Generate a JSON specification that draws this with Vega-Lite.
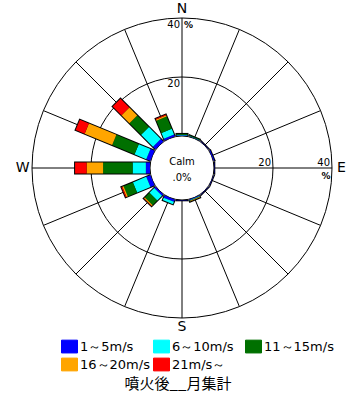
{
  "$schema": "https://vega.github.io/schema/vega-lite/v6.json",
  "width": 356,
  "height": 376,
  "autosize": "none",
  "padding": {"left": 0, "top": 0, "right": 0, "bottom": 28},
  "background": "white",
  "config": {"view": {"stroke": null}, "font": "DejaVu Sans"},
  "title": {"text": "噴火後__月集計", "orient": "bottom", "anchor": "middle", "font": "Noto Sans CJK JP", "fontSize": 15, "fontWeight": "normal", "color": "black", "offset": 1},
  "datasets": {
    "dirs": [
      {"name": "N", "deg": 0}, {"name": "NNE", "deg": 22.5}, {"name": "NE", "deg": 45}, {"name": "ENE", "deg": 67.5},
      {"name": "E", "deg": 90}, {"name": "ESE", "deg": 112.5}, {"name": "SE", "deg": 135}, {"name": "SSE", "deg": 157.5},
      {"name": "S", "deg": 180}, {"name": "SSW", "deg": 202.5}, {"name": "SW", "deg": 225}, {"name": "WSW", "deg": 247.5},
      {"name": "W", "deg": 270}, {"name": "WNW", "deg": 292.5}, {"name": "NW", "deg": 315}, {"name": "NNW", "deg": 337.5}
    ],
    "wind": [
      {"dir": "N", "deg": 0, "band": 1, "speed": "1～5m/s", "pct": 0.2},
      {"dir": "N", "deg": 0, "band": 2, "speed": "6～10m/s", "pct": 0.2},
      {"dir": "N", "deg": 0, "band": 3, "speed": "11～15m/s", "pct": 0.3},
      {"dir": "NNE", "deg": 22.5, "band": 1, "speed": "1～5m/s", "pct": 0.1},
      {"dir": "NNE", "deg": 22.5, "band": 2, "speed": "6～10m/s", "pct": 0.1},
      {"dir": "NNE", "deg": 22.5, "band": 3, "speed": "11～15m/s", "pct": 0.2},
      {"dir": "NE", "deg": 45, "band": 1, "speed": "1～5m/s", "pct": 0.1},
      {"dir": "ENE", "deg": 67.5, "band": 1, "speed": "1～5m/s", "pct": 0.3},
      {"dir": "E", "deg": 90, "band": 1, "speed": "1～5m/s", "pct": 0.1},
      {"dir": "ESE", "deg": 112.5, "band": 1, "speed": "1～5m/s", "pct": 0.1},
      {"dir": "SE", "deg": 135, "band": 1, "speed": "1～5m/s", "pct": 0.1},
      {"dir": "SSE", "deg": 157.5, "band": 1, "speed": "1～5m/s", "pct": 0.2},
      {"dir": "SSE", "deg": 157.5, "band": 2, "speed": "6～10m/s", "pct": 0.2},
      {"dir": "SSE", "deg": 157.5, "band": 3, "speed": "11～15m/s", "pct": 0.1},
      {"dir": "SSE", "deg": 157.5, "band": 4, "speed": "16～20m/s", "pct": 0.2},
      {"dir": "S", "deg": 180, "band": 1, "speed": "1～5m/s", "pct": 0.1},
      {"dir": "SSW", "deg": 202.5, "band": 1, "speed": "1～5m/s", "pct": 0.8},
      {"dir": "SSW", "deg": 202.5, "band": 2, "speed": "6～10m/s", "pct": 0.9},
      {"dir": "SW", "deg": 225, "band": 1, "speed": "1～5m/s", "pct": 0.6},
      {"dir": "SW", "deg": 225, "band": 2, "speed": "6～10m/s", "pct": 2.3},
      {"dir": "SW", "deg": 225, "band": 3, "speed": "11～15m/s", "pct": 2.2},
      {"dir": "SW", "deg": 225, "band": 4, "speed": "16～20m/s", "pct": 0.4},
      {"dir": "SW", "deg": 225, "band": 5, "speed": "21m/s～", "pct": 0.1},
      {"dir": "WSW", "deg": 247.5, "band": 1, "speed": "1～5m/s", "pct": 1.5},
      {"dir": "WSW", "deg": 247.5, "band": 2, "speed": "6～10m/s", "pct": 4.9},
      {"dir": "WSW", "deg": 247.5, "band": 3, "speed": "11～15m/s", "pct": 3.4},
      {"dir": "WSW", "deg": 247.5, "band": 4, "speed": "16～20m/s", "pct": 0.5},
      {"dir": "WSW", "deg": 247.5, "band": 5, "speed": "21m/s～", "pct": 0.3},
      {"dir": "W", "deg": 270, "band": 1, "speed": "1～5m/s", "pct": 1.4},
      {"dir": "W", "deg": 270, "band": 2, "speed": "6～10m/s", "pct": 4.5},
      {"dir": "W", "deg": 270, "band": 3, "speed": "11～15m/s", "pct": 10.0},
      {"dir": "W", "deg": 270, "band": 4, "speed": "16～20m/s", "pct": 5.6},
      {"dir": "W", "deg": 270, "band": 5, "speed": "21m/s～", "pct": 3.9},
      {"dir": "WNW", "deg": 292.5, "band": 1, "speed": "1～5m/s", "pct": 1.5},
      {"dir": "WNW", "deg": 292.5, "band": 2, "speed": "6～10m/s", "pct": 4.3},
      {"dir": "WNW", "deg": 292.5, "band": 3, "speed": "11～15m/s", "pct": 8.2},
      {"dir": "WNW", "deg": 292.5, "band": 4, "speed": "16～20m/s", "pct": 10.1},
      {"dir": "WNW", "deg": 292.5, "band": 5, "speed": "21m/s～", "pct": 3.3},
      {"dir": "NW", "deg": 315, "band": 1, "speed": "1～5m/s", "pct": 1.2},
      {"dir": "NW", "deg": 315, "band": 2, "speed": "6～10m/s", "pct": 5.7},
      {"dir": "NW", "deg": 315, "band": 3, "speed": "11～15m/s", "pct": 5.6},
      {"dir": "NW", "deg": 315, "band": 4, "speed": "16～20m/s", "pct": 3.8},
      {"dir": "NW", "deg": 315, "band": 5, "speed": "21m/s～", "pct": 4.2},
      {"dir": "NNW", "deg": 337.5, "band": 1, "speed": "1～5m/s", "pct": 0.7},
      {"dir": "NNW", "deg": 337.5, "band": 2, "speed": "6～10m/s", "pct": 2.1},
      {"dir": "NNW", "deg": 337.5, "band": 3, "speed": "11～15m/s", "pct": 4.5},
      {"dir": "NNW", "deg": 337.5, "band": 4, "speed": "16～20m/s", "pct": 0.4},
      {"dir": "NNW", "deg": 337.5, "band": 5, "speed": "21m/s～", "pct": 0.3}
    ]
  },
  "encoding": {
    "x": {"type": "quantitative", "scale": {"type": "linear", "domain": [-61.695, 58.983], "nice": false, "zero": false}, "axis": null},
    "y": {"type": "quantitative", "scale": {"type": "linear", "domain": [-70.508, 56.949], "nice": false, "zero": false}, "axis": null}
  },
  "layer": [
    {
      "data": {"values": [{"pct": 0}, {"pct": 20}, {"pct": 40}]},
      "transform": [{"calculate": "datum.pct + 10.847", "as": "r"}],
      "mark": {"type": "arc", "filled": false, "stroke": "black", "strokeWidth": 1, "theta": 0, "theta2": 6.283185307179586},
      "encoding": {
        "x": {"datum": 0, "type": "quantitative"},
        "y": {"datum": 0, "type": "quantitative"},
        "radius": {"field": "r", "type": "quantitative", "stack": null, "scale": {"type": "linear", "domain": [0, 50.847], "range": [0, 150], "zero": true, "nice": false}}
      }
    },
    {
      "data": {"name": "dirs"},
      "transform": [
        {"calculate": "datum.deg * PI / 180", "as": "a"},
        {"calculate": "10.847 * sin(datum.a)", "as": "x0"},
        {"calculate": "10.847 * cos(datum.a)", "as": "y0"},
        {"calculate": "50.847 * sin(datum.a)", "as": "x1"},
        {"calculate": "50.847 * cos(datum.a)", "as": "y1"}
      ],
      "mark": {"type": "rule", "stroke": "black", "strokeWidth": 1},
      "encoding": {
        "x": {"field": "x0", "type": "quantitative"},
        "y": {"field": "y0", "type": "quantitative"},
        "x2": {"field": "x1"},
        "y2": {"field": "y1"}
      }
    },
    {
      "data": {"name": "wind"},
      "transform": [
        {"aggregate": [{"op": "sum", "field": "pct", "as": "total"}], "groupby": ["deg"]},
        {"calculate": "datum.deg * PI / 180", "as": "a"},
        {"calculate": "10.847 * sin(datum.a)", "as": "x0"},
        {"calculate": "10.847 * cos(datum.a)", "as": "y0"},
        {"calculate": "(datum.total + 10.847 + 0.34) * sin(datum.a)", "as": "x1"},
        {"calculate": "(datum.total + 10.847 + 0.34) * cos(datum.a)", "as": "y1"}
      ],
      "mark": {"type": "rule", "stroke": "black", "strokeWidth": 13, "strokeCap": "butt"},
      "encoding": {
        "x": {"field": "x0", "type": "quantitative"},
        "y": {"field": "y0", "type": "quantitative"},
        "x2": {"field": "x1"},
        "y2": {"field": "y1"}
      }
    },
    {
      "data": {"name": "wind"},
      "transform": [
        {"stack": "pct", "groupby": ["deg"], "sort": [{"field": "band", "order": "ascending"}], "as": ["c0", "c1"]},
        {"calculate": "datum.deg * PI / 180", "as": "a"},
        {"calculate": "(datum.c0 + 10.847) * sin(datum.a)", "as": "x0"},
        {"calculate": "(datum.c0 + 10.847) * cos(datum.a)", "as": "y0"},
        {"calculate": "(datum.c1 + 10.847) * sin(datum.a)", "as": "x1"},
        {"calculate": "(datum.c1 + 10.847) * cos(datum.a)", "as": "y1"}
      ],
      "mark": {"type": "rule", "strokeWidth": 11, "strokeCap": "butt"},
      "encoding": {
        "x": {"field": "x0", "type": "quantitative"},
        "y": {"field": "y0", "type": "quantitative"},
        "x2": {"field": "x1"},
        "y2": {"field": "y1"},
        "color": {
          "field": "speed", "type": "nominal",
          "scale": {"domain": ["1～5m/s", "6～10m/s", "11～15m/s", "16～20m/s", "21m/s～"], "range": ["#0000FF", "#00FFFF", "#007000", "#FFA500", "#FF0000"]},
          "legend": {
            "title": null, "orient": "none", "legendX": 61, "legendY": 338, "direction": "horizontal", "columns": 3,
            "gridAlign": "all", "columnPadding": 1, "rowPadding": 1, "padding": 0,
            "symbolType": "M-1,-0.8H1V0.8H-1Z", "symbolSize": 256, "symbolStrokeColor": "black", "symbolStrokeWidth": 1,
            "labelFont": "DejaVu Sans", "labelFontSize": 13, "labelColor": "black", "labelOffset": 2,
            "encode": {"symbols": {"update": {"fill": {"scale": "color", "field": "value"}, "stroke": {"value": "black"}, "strokeWidth": {"value": 1}, "opacity": {"value": 1}, "fillOpacity": {"value": 1}}}}
          }
        }
      }
    },
    {
      "data": {"name": "dirs"},
      "transform": [
        {"filter": "datum.deg % 90 == 0"},
        {"calculate": "datum.deg * PI / 180", "as": "a"},
        {"calculate": "54 * sin(datum.a)", "as": "lx"},
        {"calculate": "54 * cos(datum.a)", "as": "ly"}
      ],
      "mark": {"type": "text", "font": "DejaVu Sans", "fontSize": 14, "color": "black", "align": "center", "baseline": "middle"},
      "encoding": {
        "x": {"field": "lx", "type": "quantitative"},
        "y": {"field": "ly", "type": "quantitative"},
        "text": {"field": "name"}
      }
    },
    {
      "data": {"values": [{"t": "20", "pct": 20}, {"t": "40", "pct": 40}]},
      "transform": [{"calculate": "datum.pct + 10.847", "as": "r"}],
      "mark": {"type": "text", "font": "DejaVu Sans", "fontSize": 10, "color": "black", "align": "right", "baseline": "middle", "dx": -2, "dy": 7},
      "encoding": {
        "x": {"datum": 0, "type": "quantitative"},
        "y": {"field": "r", "type": "quantitative"},
        "text": {"field": "t"}
      }
    },
    {
      "data": {"values": [{"t": "%", "pct": 40}]},
      "transform": [{"calculate": "datum.pct + 10.847", "as": "r"}],
      "mark": {"type": "text", "font": "DejaVu Sans", "fontSize": 9, "fontWeight": "bold", "color": "black", "align": "left", "baseline": "middle", "dx": 2, "dy": 7},
      "encoding": {
        "x": {"datum": 0, "type": "quantitative"},
        "y": {"field": "r", "type": "quantitative"},
        "text": {"field": "t"}
      }
    },
    {
      "data": {"values": [{"t": "20", "pct": 20}, {"t": "40", "pct": 40}]},
      "transform": [{"calculate": "datum.pct + 10.847", "as": "r"}],
      "mark": {"type": "text", "font": "DejaVu Sans", "fontSize": 10, "color": "black", "align": "right", "baseline": "middle", "dx": -2, "dy": -5},
      "encoding": {
        "x": {"field": "r", "type": "quantitative"},
        "y": {"datum": 0, "type": "quantitative"},
        "text": {"field": "t"}
      }
    },
    {
      "data": {"values": [{"t": "%", "pct": 40}]},
      "transform": [{"calculate": "datum.pct + 10.847", "as": "r"}],
      "mark": {"type": "text", "font": "DejaVu Sans", "fontSize": 9, "fontWeight": "bold", "color": "black", "align": "center", "baseline": "middle", "dx": -6, "dy": 8},
      "encoding": {
        "x": {"field": "r", "type": "quantitative"},
        "y": {"datum": 0, "type": "quantitative"},
        "text": {"field": "t"}
      }
    },
    {
      "data": {"values": [{"t": "Calm", "k": 0}, {"t": ".0%", "k": 1}]},
      "mark": {"type": "text", "font": "DejaVu Sans", "fontSize": 10, "color": "black", "align": "center", "baseline": "middle"},
      "encoding": {
        "x": {"datum": 0, "type": "quantitative"},
        "y": {"datum": 0, "type": "quantitative"},
        "yOffset": {"field": "k", "type": "quantitative", "scale": {"domain": [0, 1], "range": [-6, 10]}},
        "text": {"field": "t"}
      }
    }
  ]
}
